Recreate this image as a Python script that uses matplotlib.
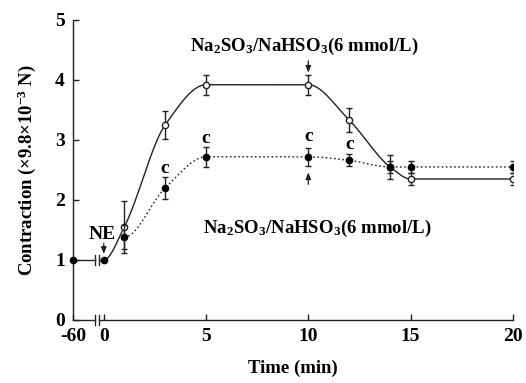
import numpy as np
import matplotlib
matplotlib.use("Agg")
import matplotlib.pyplot as plt
import matplotlib.transforms as mtransforms

plt.rcParams["font.family"] = "Liberation Serif"
plt.rcParams["font.weight"] = "bold"
plt.rcParams["axes.labelweight"] = "bold"
plt.rcParams["mathtext.fontset"] = "custom"
plt.rcParams["mathtext.rm"] = "Liberation Serif:bold"
plt.rcParams["mathtext.default"] = "rm"

# data (time in min, contraction in 9.8e-3 N)
t_base = -1.5          # plotted position of the -60 min baseline point
base_val = 1.0
times = [0, 1, 3, 5, 10, 12, 14, 15, 20]
ctrl = [1.0, 1.55, 3.25, 3.92, 3.92, 3.33, 2.55, 2.35, 2.35]
ctrl_err = [0, 0.44, 0.23, 0.17, 0.17, 0.2, 0.2, 0.1, 0.1]
so2 = [1.0, 1.38, 2.2, 2.72, 2.72, 2.66, 2.55, 2.55, 2.55]
so2_err = [0, 0.2, 0.18, 0.17, 0.15, 0.1, 0.1, 0.1, 0.1]
sig_times = [3, 5, 10, 12]
sig_y = [2.53, 3.03, 3.05, 2.93]
xtick_pos = [-1.5, 0, 5, 10, 15, 20]
xtick_lab = ["-60", "0", "5", "10", "15", "20"]


def pchip(x, y, xs):
    # monotone cubic used only to draw the smooth connecting curve
    x = np.asarray(x, float)
    y = np.asarray(y, float)
    h = np.diff(x)
    d = np.diff(y) / h
    m = np.zeros_like(y)
    for i in range(1, len(x) - 1):
        if d[i - 1] * d[i] > 0:
            w1 = 2 * h[i] + h[i - 1]
            w2 = h[i] + 2 * h[i - 1]
            m[i] = (w1 + w2) / (w1 / d[i - 1] + w2 / d[i])
    out = np.empty_like(xs)
    for j, xv in enumerate(xs):
        i = min(np.searchsorted(x, xv, side="right") - 1, len(x) - 2)
        s = (xv - x[i]) / h[i]
        h00 = 2 * s**3 - 3 * s**2 + 1
        h10 = s**3 - 2 * s**2 + s
        h01 = -2 * s**3 + 3 * s**2
        h11 = s**3 - s**2
        out[j] = h00 * y[i] + h10 * h[i] * m[i] + h01 * y[i + 1] + h11 * h[i] * m[i + 1]
    return out


fig = plt.figure(figsize=(5.26, 3.83), dpi=100)
ax = fig.add_axes([0.139, 0.1645, 0.836, 0.7835])
col = "#222222"

# smooth curves
xs = np.linspace(0, 20, 400)
ax.plot(xs, pchip(times, ctrl, xs), color=col, lw=1.0, zorder=2)
xs2 = np.linspace(1, 20, 400)
ax.plot(xs2, pchip(times[1:], so2[1:], xs2), color=col, lw=1.0, ls=(0, (1.2, 1.8)), zorder=2)

# baseline with break
ax.plot([t_base, -0.45], [base_val, base_val], color=col, lw=1.0, clip_on=False)
ax.plot([-0.25, 0], [base_val, base_val], color=col, lw=1.0)
for bx in [-0.45, -0.25]:
    ax.plot([bx, bx], [base_val - 0.09, base_val + 0.09], color=col, lw=1.0)
ax.plot([t_base], [base_val], "o", color="black", ms=4.5, clip_on=False, zorder=4)

# markers + error bars
ax.errorbar(times[1:], so2[1:], yerr=so2_err[1:], fmt="o", color="black", ms=4.5,
            ecolor=col, elinewidth=1.0, capsize=2, capthick=1.0, zorder=4)
ax.errorbar(times[1:], ctrl[1:], yerr=ctrl_err[1:], fmt="o", mfc="white", mec=col, ms=4.5,
            ecolor=col, elinewidth=1.0, capsize=2, capthick=1.0, zorder=3)
ax.plot([0], [1.0], "o", color="black", ms=4.5, zorder=4)

for tx, ty in zip(sig_times, sig_y):
    ax.text(tx, ty, "c", ha="center", va="center", fontsize=14)

arrow = dict(arrowstyle="-|>,head_length=0.5,head_width=0.2", color=col, lw=0.9,
             mutation_scale=8, shrinkA=0, shrinkB=0)
label = r"Na$_2$SO$_3$/NaHSO$_3$(6 mmol/L)"
ax.text(9.8, 4.55, label, ha="center", va="center", fontsize=13.5)
ax.annotate("", xy=(10, 4.12), xytext=(10, 4.32), arrowprops=arrow)
ax.text(10.45, 1.53, label, ha="center", va="center", fontsize=13.5)
ax.annotate("", xy=(10, 2.46), xytext=(10, 2.26), arrowprops=arrow)
ax.text(-0.1, 1.42, "NE", ha="center", va="center", fontsize=14)
ax.annotate("", xy=(0, 1.1), xytext=(0, 1.28), arrowprops=arrow)

ax.set_xlim(-1.5, 20)
ax.set_ylim(0, 5)
ax.set_xticks(xtick_pos)
ax.set_xticklabels(xtick_lab)
ax.set_yticks([0, 1, 2, 3, 4, 5])
ax.tick_params(direction="in", length=4, width=1.0, color=col, labelsize=14, pad=6)
ax.tick_params(axis="x", pad=6)
for s in ["top", "right"]:
    ax.spines[s].set_visible(False)
for s in ["left", "bottom"]:
    ax.spines[s].set_color(col)
    ax.spines[s].set_linewidth(1.0)
ax.spines["bottom"].set_visible(False)

# x axis with break
trans = mtransforms.blended_transform_factory(ax.transData, ax.transAxes)
ax.plot([-1.5, -0.45], [0, 0], color=col, lw=1.0, transform=trans, clip_on=False)
ax.plot([-0.25, 20], [0, 0], color=col, lw=1.0, transform=trans, clip_on=False)
for bx in [-0.45, -0.25]:
    ax.plot([bx, bx], [-0.018, 0.018], color=col, lw=1.0, transform=trans, clip_on=False)

ax.set_xlabel("Time (min)", fontsize=13.5, labelpad=10)
ax.set_ylabel(r"Contraction ($\times$9.8$\times$10$^{-3}$ N)", fontsize=13.5, labelpad=12)

fig.savefig("out.png", dpi=100)
